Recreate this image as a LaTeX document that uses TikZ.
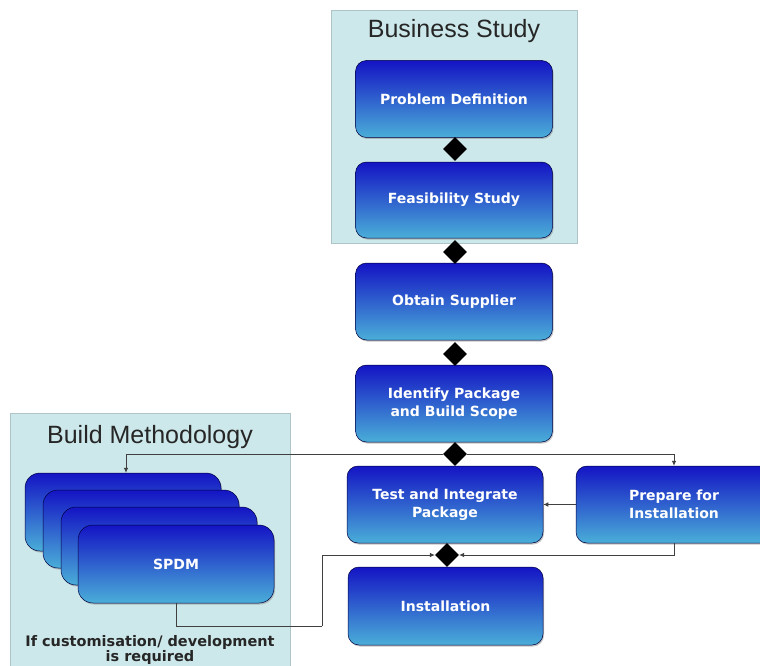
\documentclass[tikz,border=0pt]{standalone}
\usepackage{fontspec}
\setmainfont{Liberation Sans}
\newfontfamily\boxfont{DejaVu Sans}
\usetikzlibrary{shapes.geometric,arrows.meta,shadows}
\definecolor{panelc}{HTML}{CDE8EA}
\definecolor{btop}{HTML}{1414C4}
\definecolor{bbot}{HTML}{4AAED8}
\definecolor{linec}{HTML}{404040}
\begin{document}
\begin{tikzpicture}[x=1pt,y=-1pt,
  stepbox/.style={rounded corners=11pt, top color=btop, bottom color=bbot,
    draw=blue!25!black, line width=0.5pt, text=white,
    font=\boxfont\bfseries\fontsize{14}{17.5}\selectfont, align=center,
    minimum width=197pt, minimum height=77pt, inner sep=0pt,
    drop shadow={shadow xshift=1pt, shadow yshift=-1.5pt, opacity=0.45}},
  stackbox/.style={stepbox, rounded corners=15pt},
  gate/.style={diamond, fill=black, minimum width=24pt, minimum height=24pt, inner sep=0pt},
  panel/.style={fill=panelc, draw=panelc!85!black, line width=0.4pt},
  ptitle/.style={font=\fontsize{25}{29}\selectfont, text=black!85},
  conn/.style={draw=linec, line width=0.7pt, -{Latex[length=5pt,width=4.5pt]}},
  plain/.style={draw=linec, line width=0.7pt}]
\useasboundingbox (0,0) rectangle (760,666);
\fill[white] (0,0) rectangle (760,666);

% panels
\path[panel] (331,10) rectangle (577,243);
\node[ptitle] (bst) at (454,31) {Business Study};
\path[panel] (10,413) rectangle (290,666);
\node[ptitle] (bmt) at (150,437) {Build Methodology};

% main boxes
\node[stepbox] (pd) at (454,99) {Problem Definition};
\node[stepbox, minimum height=76pt] (fs) at (454,200) {Feasibility Study};
\node[stepbox] (os) at (454,301.5) {Obtain Supplier};
\node[stepbox] (ip) at (454,403.5) {Identify Package\\and Build Scope};
\node[stepbox, minimum width=196pt] (ti) at (445,504.5) {Test and Integrate\\Package};
\node[stepbox, minimum width=196pt] (pr) at (674,504.5) {Prepare for\\Installation};
\node[stepbox, minimum width=195pt, minimum height=78pt] (ins) at (445.5,606) {Installation};

% stack
\node[stackbox, minimum width=196pt, minimum height=78pt] (b1) at (123,512) {};
\node[stackbox, minimum width=196pt, minimum height=78pt] (b2) at (141,529) {};
\node[stackbox, minimum width=196pt, minimum height=78pt] (b3) at (159,546) {};
\node[stackbox, minimum width=196pt, minimum height=78pt] (b4) at (176,564) {SPDM};

\node[font=\boxfont\bfseries\fontsize{14.5}{15.5}\selectfont, text=black!85, align=center] (note) at (150,650)
  {If customisation/ development\\is required};

% gates
\node[gate] (d1) at (455,149) {};
\node[gate] (d2) at (455,252) {};
\node[gate] (d3) at (455,354) {};
\node[gate] (d4) at (455,454) {};
\node[gate] (d5) at (447,555) {};

% connectors
\draw[conn] (d4.west) -| ([xshift=3pt]b1.north);
\draw[conn] (d4.east) -| (pr.north);
\draw[conn] (pr.west) -- (ti.east);
\draw[conn] (pr.south) |- (d5.east);
\coordinate (k1) at (322,626);
\draw[plain] (b4.south) |- (k1);
\draw[conn] (k1) |- (d5.west);
\end{tikzpicture}
\end{document}
